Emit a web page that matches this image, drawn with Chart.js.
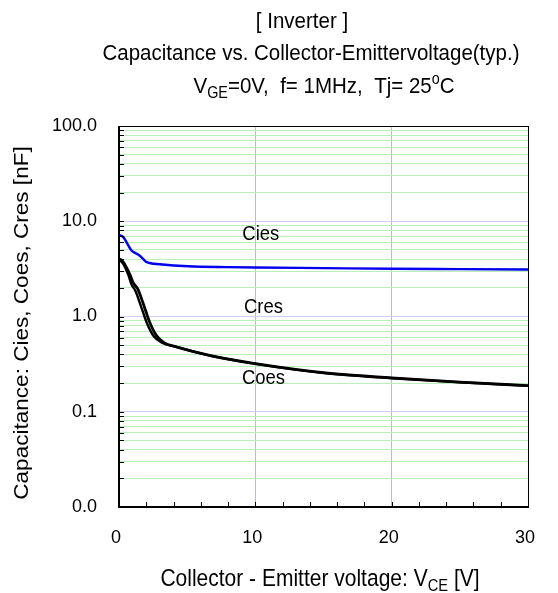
<!DOCTYPE html>
<html>
<head>
<meta charset="utf-8">
<script src="https://cdn.jsdelivr.net/npm/chart.js@4.4.1/dist/chart.umd.min.js"></script>
<style>
  html, body { margin: 0; padding: 0; background: #fff; }
  #wrap { width: 558px; height: 593px; }
</style>
</head>
<body>
<div id="wrap"><canvas id="myChart" width="558" height="593"></canvas></div>
<script>
// values (VCE in V, C in nF)
const ciesX = [0, 0.3, 0.9, 1.4, 1.75, 2.0, 3.0, 5.1, 8, 10, 15, 20, 25, 30];
const ciesY = [7.15, 6.85, 4.97, 4.47, 4.06, 3.74, 3.54, 3.37, 3.3, 3.27, 3.22, 3.17, 3.14, 3.11];

const coesX = [0, 0.3, 0.8, 1.05, 1.4, 1.75, 2.0, 2.25, 2.75, 3.3, 4.2, 6.8, 10, 15, 20, 25, 30];
const coesY = [4.06, 3.74, 2.75, 2.25, 1.92, 1.4, 1.1, 0.87, 0.63, 0.53, 0.48, 0.385, 0.32, 0.257, 0.227, 0.205, 0.188];

const cresX = [0, 0.3, 0.7, 0.9, 1.2, 1.55, 1.8, 2.05, 2.55, 3.15, 4.2, 6.8, 10, 15, 20, 25, 30];
const cresY = [3.95, 3.6, 2.7, 2.2, 1.86, 1.36, 1.07, 0.85, 0.62, 0.53, 0.48, 0.385, 0.318, 0.255, 0.225, 0.204, 0.187];

const xTickLabels = [0, 10, 20, 30];
const yTickLabels = { 0.01: '0.0', 0.1: '0.1', 1: '1.0', 10: '10.0', 100: '100.0' };

const curveLabels = [
    { text: 'Cies', x: 10.4, y: 7.5 },
    { text: 'Cres', x: 10.6, y: 1.28 },
    { text: 'Coes', x: 10.6, y: 0.23 }
];

const FONT = '"Liberation Sans", Arial, sans-serif';
const VSCALE = 1.1; // the original text is a bit taller than wide

function toPoints(xs, ys) {
    return xs.map((x, i) => ({ x: x, y: ys[i] }));
}

function isMajor(v) {
    const m = v / Math.pow(10, Math.floor(Math.log10(v) + 1e-9));
    return Math.abs(m - 1) < 1e-6;
}

// draw a string made of pieces, some of them sub/superscript, centred on cx
function drawRich(ctx, parts, cx, baseY, size) {
    ctx.save();
    ctx.translate(cx, baseY);
    ctx.scale(1, VSCALE);
    let total = 0;
    parts.forEach(p => {
        const s = p.sub || p.sup ? size * 0.7 : size;
        ctx.font = s + 'px ' + FONT;
        p.w = ctx.measureText(p.t).width;
        p.s = s;
        total += p.w;
    });
    let x = -total / 2;
    ctx.textAlign = 'left';
    ctx.textBaseline = 'alphabetic';
    ctx.fillStyle = '#000';
    parts.forEach(p => {
        ctx.font = p.s + 'px ' + FONT;
        let y = 0;
        if (p.sub) y += size * 0.22;
        if (p.sup) y -= size * 0.4;
        ctx.fillText(p.t, x, y);
        x += p.w;
    });
    ctx.restore();
}

const decor = {
    id: 'decor',
    afterDatasetsDraw(chart) {
        const ctx = chart.ctx;
        const a = chart.chartArea;
        const xs = chart.scales.x;
        const ys = chart.scales.y;

        // tick marks pointing into the plot
        ctx.save();
        ctx.strokeStyle = '#000';
        ctx.lineWidth = 1;
        ys.ticks.forEach(t => {
            const py = Math.round(ys.getPixelForValue(t.value)) + 0.5;
            ctx.beginPath();
            ctx.moveTo(a.left, py);
            ctx.lineTo(a.left + 5, py);
            ctx.stroke();
        });
        for (let v = 2; v < 30; v += 2) {
            const px = Math.round(xs.getPixelForValue(v)) + 0.5;
            ctx.beginPath();
            ctx.moveTo(px, a.bottom);
            ctx.lineTo(px, a.bottom - 5);
            ctx.stroke();
        }

        // frame
        ctx.lineWidth = 1;
        ctx.strokeRect(a.left + 0.5, a.top + 0.5, a.right - a.left, a.bottom - a.top);
        ctx.lineWidth = 2;
        ctx.beginPath();
        ctx.moveTo(a.left, a.top);
        ctx.lineTo(a.left, a.bottom);
        ctx.lineTo(a.right, a.bottom);
        ctx.stroke();

        // curve names
        curveLabels.forEach(l => {
            drawRich(ctx, [{ t: l.text }], xs.getPixelForValue(l.x), ys.getPixelForValue(l.y) + 7, 18.5);
        });

        // titles
        drawRich(ctx, [{ t: '[ Inverter ]' }], 302, 28, 20.5);
        drawRich(ctx, [{ t: 'Capacitance vs. Collector-Emittervoltage(typ.)' }], 311, 60, 20.5);
        drawRich(ctx, [
            { t: 'V' }, { t: 'GE', sub: true }, { t: '=0V,  f= 1MHz,  Tj= 25' },
            { t: 'o', sup: true }, { t: 'C' }
        ], 324, 93, 20.5);

        // axis titles
        drawRich(ctx, [
            { t: 'Collector - Emitter voltage: V' }, { t: 'CE', sub: true }, { t: ' [V]' }
        ], 320, 586, 21);

        ctx.save();
        ctx.translate(28, 323);
        ctx.rotate(-Math.PI / 2);
        ctx.scale(1.1, 1);
        ctx.font = '20.5px ' + FONT;
        ctx.fillStyle = '#000';
        ctx.textAlign = 'center';
        ctx.textBaseline = 'alphabetic';
        ctx.fillText('Capacitance: Cies, Coes, Cres [nF]', 0, 0);
        ctx.restore();
        ctx.restore();
    }
};

const ctx = document.getElementById('myChart').getContext('2d');
new Chart(ctx, {
    type: 'scatter',
    data: {
        datasets: [
            { label: 'Cies', data: toPoints(ciesX, ciesY), borderColor: '#0000ee', borderWidth: 2.4 },
            { label: 'Coes', data: toPoints(coesX, coesY), borderColor: '#000', borderWidth: 2.8 },
            { label: 'Cres', data: toPoints(cresX, cresY), borderColor: '#000', borderWidth: 2.4 }
        ].map(d => Object.assign(d, {
            showLine: true,
            pointRadius: 0,
            cubicInterpolationMode: 'monotone',
            fill: false
        }))
    },
    options: {
        responsive: false,
        animation: false,
        layout: { padding: { top: 126, right: 23, left: 0, bottom: 0 } },
        plugins: {
            legend: { display: false },
            tooltip: { enabled: false }
        },
        scales: {
            x: {
                type: 'linear',
                min: 0,
                max: 30,
                afterFit(scale) { scale.height = 86; },
                afterBuildTicks(scale) {
                    scale.ticks = xTickLabels.map(v => ({ value: v }));
                },
                border: { display: false },
                grid: {
                    drawTicks: false,
                    color: c => (c.tick.value === 10 || c.tick.value === 20) ? '#b4b4ff' : 'rgba(0,0,0,0)',
                    lineWidth: 1
                },
                ticks: {
                    padding: 20,
                    labelOffset: -3,
                    color: '#000',
                    font: { family: FONT, size: 18 },
                    maxRotation: 0,
                    autoSkip: false
                }
            },
            y: {
                type: 'logarithmic',
                min: 0.01,
                max: 100,
                afterFit(scale) { scale.width = 119; },
                afterBuildTicks(scale) {
                    const t = [];
                    for (let e = -2; e <= 1; e++) {
                        for (let m = 1; m <= 9; m++) t.push({ value: m * Math.pow(10, e) });
                    }
                    t.push({ value: 100 });
                    scale.ticks = t;
                },
                border: { display: false },
                grid: {
                    drawTicks: false,
                    color: c => isMajor(c.tick.value) ? '#d0d0ff' : '#b8f0b8',
                    lineWidth: 1
                },
                ticks: {
                    padding: 22,
                    color: '#000',
                    autoSkip: false,
                    font: { family: FONT, size: 18 },
                    callback: function (value) {
                        for (const k in yTickLabels) {
                            if (Math.abs(Number(k) - value) / value < 1e-6) return yTickLabels[k];
                        }
                        return '';
                    }
                }
            }
        }
    },
    plugins: [decor]
});
</script>
</body>
</html>
